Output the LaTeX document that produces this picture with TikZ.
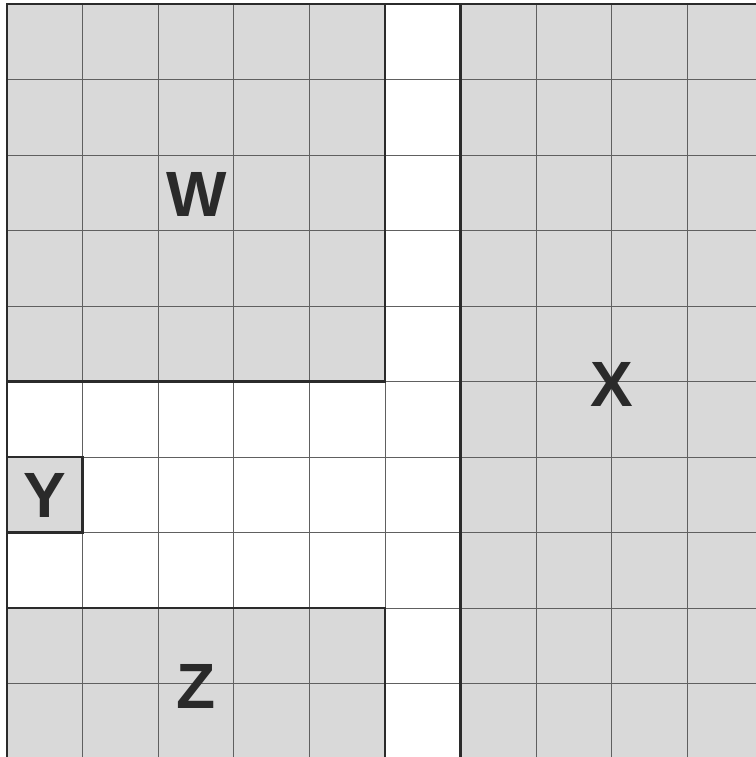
\documentclass[tikz,border=0pt]{standalone}
\usepackage{fontspec}
\setmainfont{Liberation Sans}
\definecolor{cellgray}{HTML}{D9D9D9}
\definecolor{gridline}{HTML}{606060}
\definecolor{borderline}{HTML}{2B2B2B}
\definecolor{lettercol}{HTML}{2A2A2A}
\begin{document}
\begin{tikzpicture}[x=1pt,y=-1pt,
  region/.style={fill=cellgray,draw=none},
  gridthin/.style={draw=gridline,line width=0.9pt},
  border/.style={draw=borderline,line width=2.6pt,line cap=rect},
  letter/.style={font=\bfseries\fontsize{64}{64}\selectfont,text=lettercol,inner sep=0pt}]
\useasboundingbox (0,0) rectangle (755,757);
% shaded regions
\fill[region] (7,4) rectangle (385,381.5);      % W
\fill[region] (460.6,4) rectangle (770,770);    % X
\fill[region] (7,457) rectangle (82.6,532.5);   % Y
\fill[region] (7,608) rectangle (385,770);      % Z
% grid lines
\foreach \i in {1,...,9} {
  \pgfmathsetmacro{\xx}{7+75.6*\i}
  \draw[gridthin] (\xx,4) -- (\xx,770);
  \pgfmathsetmacro{\yy}{4+75.5*\i}
  \draw[gridthin] (7,\yy) -- (770,\yy);
}
% heavy borders
\draw[border] (7,770) -- (7,4) -- (770,4);
\draw[border] (385,4) -- (385,381.5) -- (7,381.5);
\draw[border] (460.6,4) -- (460.6,770);
\draw[border] (7,457) rectangle (82.6,532.5);
\draw[border] (7,608) -- (385,608) -- (385,770);
% labels
\node[letter] (w) at (196.5,194.5) {W};
\node[letter] (x) at (612,384) {X};
\node[letter] (y) at (44.8,495.3) {Y};
\node[letter] (z) at (196,686.5) {Z};
\end{tikzpicture}
\end{document}
